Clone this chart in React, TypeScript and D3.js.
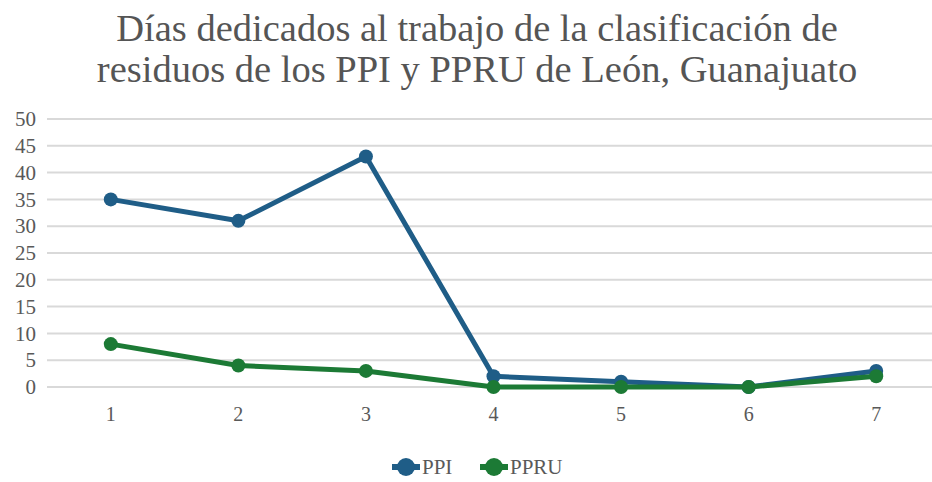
import React, { useEffect, useRef } from "react";
import * as d3 from "d3";

const categories = ["1", "2", "3", "4", "5", "6", "7"];
const ppiValues = [35, 31, 43, 2, 1, 0, 3];
const ppruValues = [8, 4, 3, 0, 0, 0, 2];
const yTicks = [0, 5, 10, 15, 20, 25, 30, 35, 40, 45, 50];
const titleLines = [
  "Días dedicados al trabajo de la clasificación de",
  "residuos de los PPI y PPRU de León, Guanajuato",
];
const seriesNames = ["PPI", "PPRU"];

const colors = ["#1f5d87", "#1c7a35"];

const App = () => {
  const svgRef = useRef<SVGSVGElement>(null);

  useEffect(() => {
    const width = 932;
    const height = 482;
    const font = "Liberation Serif, Times New Roman, DejaVu Serif, serif";
    const svg = d3.select(svgRef.current);
    svg.selectAll("*").remove();

    svg.append("rect").attr("width", width).attr("height", height).attr("fill", "#fff");

    const x = d3.scaleBand(categories, [47, 940]);
    const y = d3.scaleLinear([0, 50], [387, 119]);

    // title
    svg
      .append("g")
      .selectAll("text")
      .data(titleLines)
      .join("text")
      .attr("x", 477)
      .attr("y", (_, i) => 41 + i * 41)
      .attr("text-anchor", "middle")
      .style("font-family", font)
      .attr("font-size", 38.5)
      .attr("fill", "#555")
      .text((d) => d);

    // grid
    svg
      .append("g")
      .selectAll("line")
      .data(yTicks)
      .join("line")
      .attr("x1", 47)
      .attr("x2", width)
      .attr("y1", (d) => y(d))
      .attr("y2", (d) => y(d))
      .attr("stroke", "#d9d9d9")
      .attr("stroke-width", 2);

    // y axis
    svg
      .append("g")
      .attr("transform", "translate(36,0)")
      .call(d3.axisLeft(y).tickValues(yTicks).tickSize(0).tickPadding(0))
      .call((g) => g.select(".domain").remove())
      .call((g) =>
        g
          .selectAll(".tick text")
          .style("font-family", font)
          .attr("font-size", 21)
          .attr("fill", "#595959")
      );

    // x axis
    svg
      .append("g")
      .attr("transform", "translate(0,387)")
      .call(d3.axisBottom(x).tickSize(0).tickPadding(20))
      .call((g) => g.select(".domain").remove())
      .call((g) =>
        g
          .selectAll(".tick text")
          .style("font-family", font)
          .attr("font-size", 20)
          .attr("fill", "#595959")
      );

    const cx = (i: number) => (x(categories[i]) ?? 0) + x.bandwidth() / 2;
    const line = d3
      .line<number>()
      .x((_, i) => cx(i))
      .y((d) => y(d));

    [ppiValues, ppruValues].forEach((vals, s) => {
      const g = svg.append("g");
      g.append("path")
        .attr("d", line(vals))
        .attr("fill", "none")
        .attr("stroke", colors[s])
        .attr("stroke-width", 5)
        .attr("stroke-linejoin", "round");
      g.selectAll("circle")
        .data(vals)
        .join("circle")
        .attr("cx", (_, i) => cx(i))
        .attr("cy", (d) => y(d))
        .attr("r", 7)
        .attr("fill", colors[s]);
    });

    // legend
    const legendX = [392, 480];
    const legend = svg
      .append("g")
      .selectAll("g")
      .data(seriesNames)
      .join("g")
      .attr("transform", (_, i) => `translate(${legendX[i]},467)`);
    legend
      .append("line")
      .attr("x1", 0)
      .attr("x2", 28)
      .attr("stroke", (_, i) => colors[i])
      .attr("stroke-width", 6);
    legend
      .append("circle")
      .attr("cx", 14)
      .attr("r", 9)
      .attr("fill", (_, i) => colors[i]);
    legend
      .append("text")
      .attr("x", 30)
      .attr("dy", "0.35em")
      .style("font-family", font)
      .attr("font-size", 21)
      .attr("fill", "#595959")
      .text((d) => d);
  }, []);

  return <svg ref={svgRef} width={932} height={482} style={{ position: "absolute", left: 0, top: 0 }} />;
};

export default App;
